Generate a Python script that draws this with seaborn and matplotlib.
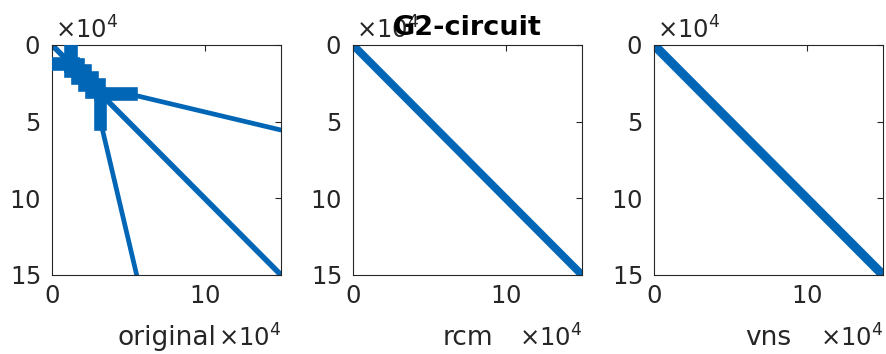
import numpy as np
import pandas as pd
import matplotlib
matplotlib.use("Agg")
import matplotlib.pyplot as plt
from matplotlib.ticker import ScalarFormatter
import seaborn as sns

# ---- sparsity structure of G2_circuit under three orderings ----
N = 150102                     # matrix dimension

# main diagonal (same for every ordering)
diag_from = [0, 0]
diag_to = [N, N]

# original ordering: long coupling lines away from the diagonal
orig_link_c0 = [55000, 33000]
orig_link_r0 = [33000, 55000]
orig_link_c1 = [N, 55500]
orig_link_r1 = [55500, N]

# original ordering: dense blocks (col from, col to, row from, row to)
orig_blk_c0 = [0, 9300, 9500, 14000, 18500, 23000, 29000, 29000]
orig_blk_c1 = [17000, 15500, 20500, 25000, 29500, 34000, 55000, 35000]
orig_blk_r0 = [9300, 0, 9500, 14000, 18500, 23000, 29000, 29000]
orig_blk_r1 = [15500, 17000, 20500, 25000, 29500, 34000, 35000, 55000]

# rcm ordering: half bandwidth (rows) along the diagonal
rcm_band_pos = [0, 30000, 45000, 70000, 95000, 115000, N]
rcm_band_half = [0, 500, 2200, 3000, 2200, 800, 0]

panel_names = ["original", "rcm", "vns"]
title = "G2-circuit"

BLUE = "#0066B5"
INK = "#262626"

sns.set_theme(style="white")
plt.rcParams["font.family"] = ["DejaVu Sans"]
plt.rcParams["mathtext.fontset"] = "dejavusans"

fig = plt.figure(figsize=(8.86, 3.54), dpi=100)
W, H = 886, 354
lefts = [52, 353, 654]
axes = [fig.add_axes([l / W, (H - 275) / H, 229 / W, 230 / H]) for l in lefts]


def segments_frame(c0, r0, c1, r1):
    rows = []
    for i in range(len(c0)):
        rows.append({"seg": i, "col": c0[i], "row": r0[i]})
        rows.append({"seg": i, "col": c1[i], "row": r1[i]})
    return pd.DataFrame(rows)


diag_df = segments_frame([diag_from[0]], [diag_from[1]], [diag_to[0]], [diag_to[1]])
diag_lw = {"original": 4.0, "rcm": 5.6, "vns": 6.6}

for ax, name in zip(axes, panel_names):
    sns.lineplot(data=diag_df, x="col", y="row", units="seg", estimator=None,
                 sort=False, color=BLUE, linewidth=diag_lw[name],
                 solid_capstyle="round", ax=ax, legend=False)

    if name == "original":
        links = segments_frame(orig_link_c0, orig_link_r0, orig_link_c1, orig_link_r1)
        sns.lineplot(data=links, x="col", y="row", units="seg", estimator=None,
                     sort=False, color=BLUE, linewidth=3.4,
                     solid_capstyle="round", ax=ax, legend=False)
        c0 = np.array(orig_blk_c0); c1 = np.array(orig_blk_c1)
        r0 = np.array(orig_blk_r0); r1 = np.array(orig_blk_r1)
        ax.bar(c0, r1 - r0, width=c1 - c0, bottom=r0, align="edge",
               color=BLUE, edgecolor=BLUE, linewidth=2.6, zorder=3)
    elif name == "rcm":
        pos = np.array(rcm_band_pos, dtype=float)
        half = np.array(rcm_band_half, dtype=float)
        ax.fill_between(pos, pos - half, pos + half, color=BLUE, lw=0, zorder=3)

    ax.set_xlim(0, N)
    ax.set_ylim(N, 0)
    ax.set_xticks([0, 100000])
    ax.set_yticks([0, 50000, 100000, 150000])
    for axis in (ax.xaxis, ax.yaxis):
        fmt = ScalarFormatter(useMathText=True)
        fmt.set_powerlimits((4, 4))
        axis.set_major_formatter(fmt)
        axis.get_offset_text().set_visible(False)
    ax.tick_params(direction="in", length=4, width=0.8, top=True, right=True,
                   labelsize=17.5, colors=INK)
    ax.tick_params(axis="x", pad=6.5)
    ax.tick_params(axis="y", pad=8.5)
    for sp in ax.spines.values():
        sp.set_visible(True)
        sp.set_color(INK)
        sp.set_linewidth(0.8)
    ax.set_facecolor("white")
    ax.set_xlabel(name, fontsize=19, color=INK)
    ax.set_ylabel("")
    ax.xaxis.set_label_coords(0.5, -0.218)

    # scale multipliers for both axes
    ax.text(0.013, 1.03, r"$\times10^{4}$", transform=ax.transAxes,
            ha="left", va="baseline", fontsize=17.5, color=INK)
    ax.text(1.0, -0.313, r"$\times10^{4}$", transform=ax.transAxes,
            ha="right", va="baseline", fontsize=17.5, color=INK)

axes[1].set_title(title, y=1.045, pad=0, fontsize=19.5, fontweight="bold",
                  color="black")

fig.savefig("out.png", dpi=100, facecolor="white")
